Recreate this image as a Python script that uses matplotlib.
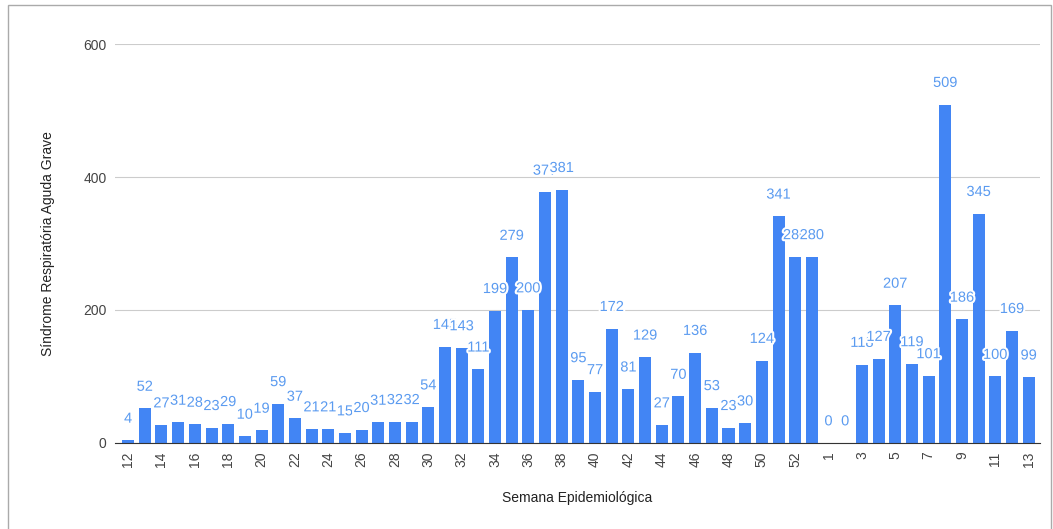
import numpy as np
import matplotlib.pyplot as plt
import matplotlib.patheffects as pe
from matplotlib.patches import Rectangle

semanas = [str(s) for s in range(12, 54)] + [str(s) for s in range(1, 14)]
casos = [4, 52, 27, 31, 28, 23, 29, 10, 19, 59, 37, 21, 21, 15, 20, 31, 32, 32, 54,
         145, 143, 111, 199, 279, 200, 377, 381, 95, 77, 172, 81, 129, 27, 70, 136,
         53, 23, 30, 124, 341, 280, 280,
         0, 0, 118, 127, 207, 119, 101, 509, 186, 345, 100, 169, 99]

plt.rcParams['font.family'] = ['Liberation Sans', 'DejaVu Sans']

fig = plt.figure(figsize=(10.53, 5.29), dpi=100)
ax = fig.add_axes([0.109, 0.1626, 0.879, 0.7542])

x = np.arange(len(casos))
ax.bar(x, casos, width=0.72, color='#4285f4', zorder=3)

for xi, v in zip(x, casos):
    t = ax.text(xi, v + 22, str(v), ha='center', va='bottom', fontsize=10.5,
                color='#5b9bf0', zorder=4)
    t.set_path_effects([pe.withStroke(linewidth=3, foreground='white')])

ax.set_ylim(0, 600)
ax.set_xlim(-0.8, len(casos) - 0.3)
ax.set_yticks([0, 200, 400, 600])
ax.set_yticklabels(['0', '200', '400', '600'], fontsize=10, color='#444444')
ax.set_xticks(x[::2])
ax.set_xticklabels(semanas[::2], rotation=90, fontsize=10, color='#444444')
ax.tick_params(length=0, pad=6)
ax.grid(axis='y', color='#cccccc', linewidth=0.8, zorder=0)
for s in ['top', 'right', 'left']:
    ax.spines[s].set_visible(False)
ax.spines['bottom'].set_color('#333333')
ax.spines['bottom'].set_zorder(5)

ax.set_ylabel('Síndrome Respiratória Aguda Grave', fontsize=10, color='#222222', labelpad=20)
ax.set_xlabel('Semana Epidemiológica', fontsize=10, color='#222222', labelpad=17)

fig.patches.append(Rectangle((0.008, -0.01), 0.99, 1.0, transform=fig.transFigure,
                             fill=False, edgecolor='#aaaaaa', linewidth=1))

fig.savefig('out.png', dpi=100)
